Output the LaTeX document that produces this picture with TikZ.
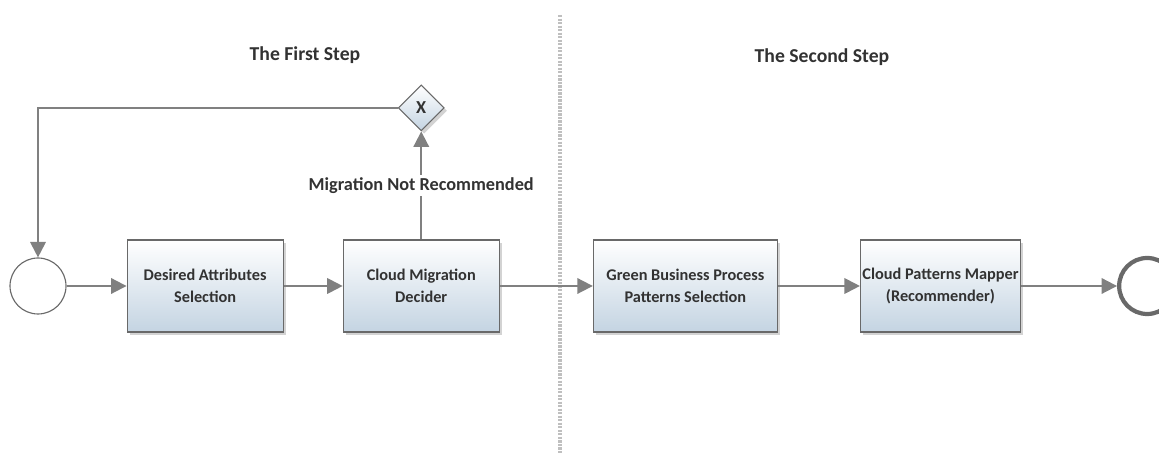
\documentclass[tikz,border=0pt]{standalone}
\usepackage{fontspec}
\setmainfont{Carlito}
\usepackage{tikz}
\usetikzlibrary{arrows.meta,positioning,shapes.geometric,shadows}

\definecolor{flowgray}{RGB}{128,128,128}
\definecolor{boxline}{RGB}{105,105,105}
\definecolor{boxbottom}{RGB}{196,212,226}
\definecolor{textgray}{RGB}{50,50,50}

\begin{document}
\begin{tikzpicture}[node distance=1.5cm,>={Triangle[length=11pt,width=11pt]},font=\bfseries\fontsize{13}{16}\selectfont,text=textgray]
	\tikzstyle{task}=[rectangle, draw=boxline, thick, top color=white, bottom color=boxbottom, minimum width=3.9cm, minimum height=2.3cm, inner xsep=1pt, align=center, font=\bfseries\fontsize{11.6}{16}\selectfont, drop shadow={opacity=0.35,shadow xshift=2pt,shadow yshift=-2pt}]
	\tikzstyle{gate}=[diamond, draw=boxline, thick, top color=white, bottom color=boxbottom, minimum width=1.15cm, minimum height=1.15cm, inner sep=0pt, drop shadow={opacity=0.35,shadow xshift=2pt,shadow yshift=-2pt}]
	\tikzstyle{flow}=[->, draw=flowgray, line width=1.4pt]
	\tikzstyle{step title}=[font=\bfseries\fontsize{14}{16}\selectfont]

	\useasboundingbox (0,0) rectangle (28.975,11.35);

	% divider between the two steps
	\draw[gray!50, line width=2.6pt, dash pattern=on 1.6pt off 0.9pt] (14.0,10.975) -- (14.0,0);
	\node[step title] (first) at (7.625,9.975) {The First Step};
	\node[step title] (second) at (20.55,9.925) {The Second Step};

	% first step
	\node [circle, draw=boxline, thick, fill=white, minimum size=1.4cm] (start) at (0.95,4.2) {};
	\node [task] (attr) [right=1.5cm of start] {Desired Attributes\\Selection};
	\node [task] (decider) [right=1.475cm of attr] {Cloud Migration\\Decider};
	\node [gate] (xor) [above=2.7cm of decider] {X};

	% second step
	\node [task, minimum width=4.6cm] (green) [right=2.325cm of decider] {Green Business Process\\Patterns Selection};
	\node [task, minimum width=4.0cm] (mapper) [right=2.05cm of green] {Cloud Patterns Mapper\\(Recommender)};
	\node [circle, draw=boxline, line width=3pt, fill=white, minimum size=1.4cm] (end) [right=2.4cm of mapper] {};

	\draw[flow] (start) -- (attr);
	\draw[flow] (attr) -- (decider);
	\draw[flow] (decider) -- node[fill=white, inner sep=2pt] (notrec) {Migration Not Recommended} (xor);
	\draw[flow] (xor.west) -| (start.north);
	\draw[flow] (decider) -- (green);
	\draw[flow] (green) -- (mapper);
	\draw[flow] (mapper) -- (end);
\end{tikzpicture}
\end{document}
